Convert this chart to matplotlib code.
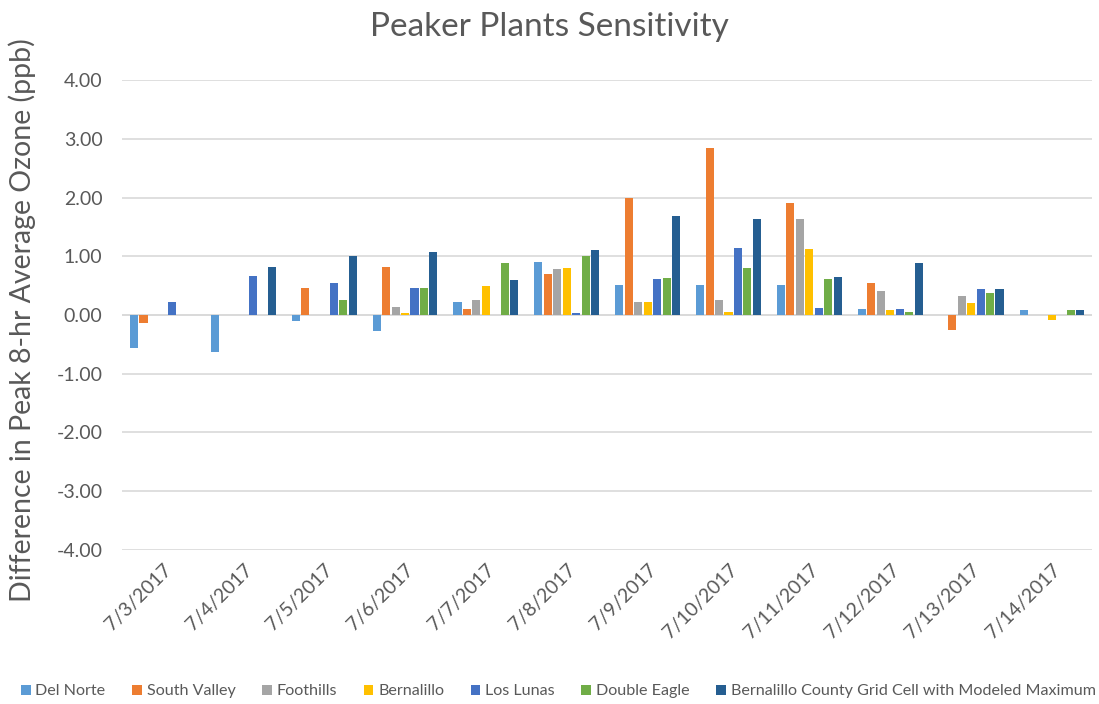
import numpy as np
import matplotlib.pyplot as plt

dates = ['7/3/2017', '7/4/2017', '7/5/2017', '7/6/2017', '7/7/2017', '7/8/2017',
         '7/9/2017', '7/10/2017', '7/11/2017', '7/12/2017', '7/13/2017', '7/14/2017']

del_norte     = [-0.57, -0.63, -0.10, -0.28, 0.22, 0.90, 0.52, 0.52, 0.52, 0.10, 0.00, 0.08]
south_valley  = [-0.14, 0.00, 0.46, 0.81, 0.11, 0.70, 2.00, 2.85, 1.91, 0.55, -0.25, 0.00]
foothills     = [0.00, 0.00, 0.00, 0.13, 0.26, 0.78, 0.23, 0.26, 1.64, 0.41, 0.32, 0.00]
bernalillo    = [0.00, 0.00, 0.00, 0.04, 0.50, 0.80, 0.23, 0.05, 1.13, 0.08, 0.21, -0.08]
los_lunas     = [0.22, 0.66, 0.55, 0.46, 0.00, 0.04, 0.61, 1.15, 0.12, 0.10, 0.45, 0.00]
double_eagle  = [0.00, 0.00, 0.26, 0.46, 0.88, 1.01, 0.63, 0.80, 0.62, 0.05, 0.38, 0.08]
grid_cell_max = [0.00, 0.81, 1.01, 1.07, 0.59, 1.10, 1.69, 1.64, 0.64, 0.89, 0.45, 0.08]

series = [
    ('Del Norte', del_norte, '#5B9BD5'),
    ('South Valley', south_valley, '#ED7D31'),
    ('Foothills', foothills, '#A5A5A5'),
    ('Bernalillo', bernalillo, '#FFC000'),
    ('Los Lunas', los_lunas, '#4472C4'),
    ('Double Eagle', double_eagle, '#70AD47'),
    ('Bernalillo County Grid Cell with Modeled Maximum', grid_cell_max, '#255E91'),
]

plt.rcParams['font.family'] = ['Lato', 'DejaVu Sans']

fig = plt.figure(figsize=(10.99, 7.04), dpi=100)
ax = fig.add_axes([0.111, 0.219, 0.883, 0.667])

x = np.arange(len(dates))
step = 0.117
w = 0.10
for i, (name, vals, col) in enumerate(series):
    ax.bar(x + (i - 3) * step, vals, w, color=col, label=name, zorder=3)

ax.set_xlim(-0.5, len(dates) - 0.5)
ax.set_ylim(-4, 4)
ax.set_yticks(np.arange(-4, 4.01, 1))
ax.set_yticklabels(['%.2f' % v for v in np.arange(-4, 4.01, 1)])
ax.yaxis.grid(True, color='#D9D9D9', linewidth=1.2, zorder=0)
ax.axhline(0, color='#D9D9D9', linewidth=1.2, zorder=1)
for s in ax.spines.values():
    s.set_visible(False)
ax.tick_params(axis='both', length=0, colors='#595959', labelsize=14)
ax.tick_params(axis='y', pad=14)
ax.set_xticks(x)
ax.set_xticklabels(dates, rotation=45, ha='right', rotation_mode='anchor')
ax.tick_params(axis='x', pad=8)

fig.text(0.5, 0.962, 'Peaker Plants Sensitivity', fontsize=24, color='#595959',
         ha='center', va='center')
fig.text(0.02, 0.545, 'Difference in Peak 8-hr Average Ozone (ppb)', fontsize=20.5,
         color='#595959', rotation=90, ha='center', va='center')

fig.legend(loc='center', ncol=7, frameon=False, fontsize=11.6,
           handlelength=0.6, handleheight=0.6, handletextpad=0.3, columnspacing=1.65,
           bbox_to_anchor=(0.508, 0.018), labelcolor='#595959')

fig.savefig('out.png', dpi=100)
